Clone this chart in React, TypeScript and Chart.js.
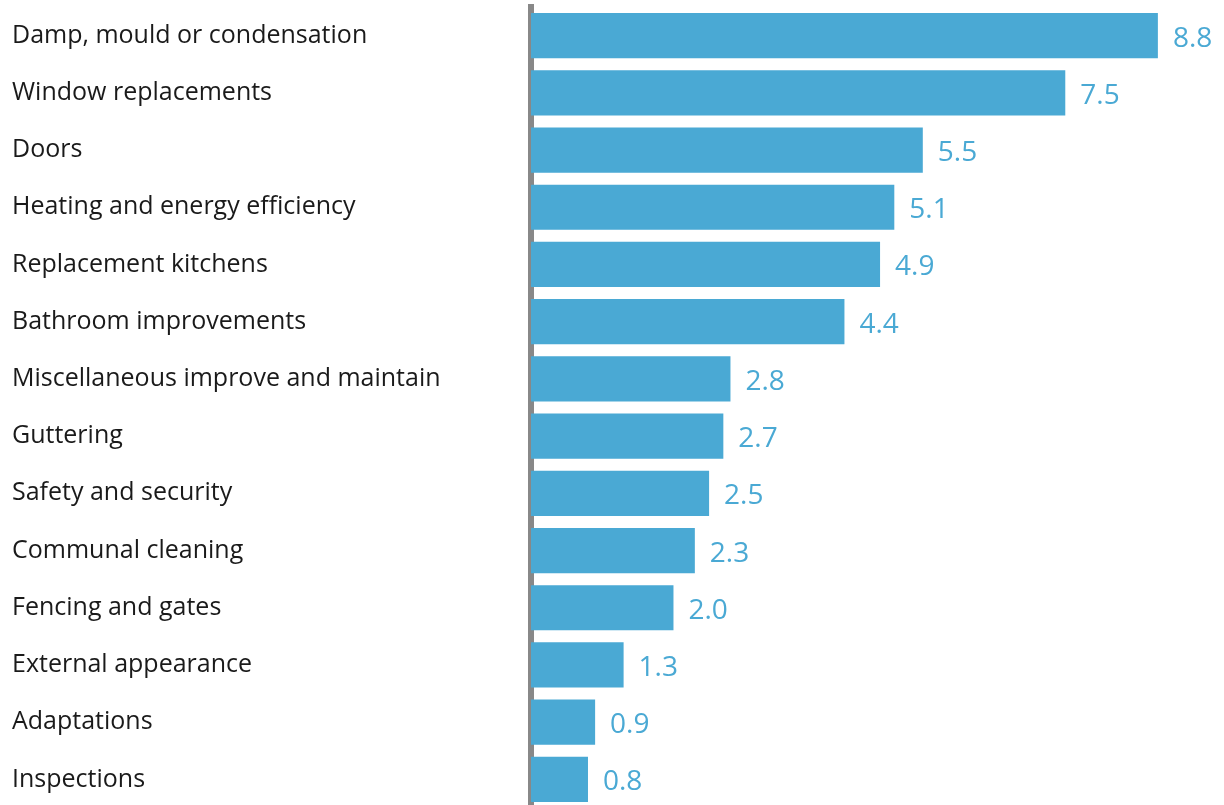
import React, { useEffect, useRef } from "react";
import { Chart, registerables } from "chart.js";

Chart.register(...registerables);

const categories: string[] = [
  "Damp, mould or condensation",
  "Window replacements",
  "Doors",
  "Heating and energy efficiency",
  "Replacement kitchens",
  "Bathroom improvements",
  "Miscellaneous improve and maintain",
  "Guttering",
  "Safety and security",
  "Communal cleaning",
  "Fencing and gates",
  "External appearance",
  "Adaptations",
  "Inspections",
];

const values: number[] = [8.8, 7.5, 5.5, 5.1, 4.9, 4.4, 2.8, 2.7, 2.5, 2.3, 2.0, 1.3, 0.9, 0.8];

const BAR_COLOR = "#4aa9d4";
const FONT = "'Open Sans', 'Noto Sans', sans-serif";

const valueLabels = {
  id: "valueLabels",
  afterDatasetsDraw(chart: any) {
    const ctx = chart.ctx;
    const meta = chart.getDatasetMeta(0);
    ctx.save();
    ctx.fillStyle = BAR_COLOR;
    ctx.font = `28px ${FONT}`;
    ctx.textAlign = "left";
    ctx.textBaseline = "middle";
    meta.data.forEach((el: any, i: number) => {
      const v = chart.data.datasets[0].data[i] as number;
      ctx.fillText(v.toFixed(1), el.x + 15, el.y + 3);
    });
    ctx.restore();
  },
};

export default function App() {
  const ref = useRef<HTMLCanvasElement | null>(null);
  useEffect(() => {
    if (!ref.current) return;
    const chart = new Chart(ref.current, {
      type: "bar",
      data: {
        labels: categories,
        datasets: [
          {
            data: values,
            backgroundColor: BAR_COLOR,
            borderWidth: 0,
            barPercentage: 0.79,
            categoryPercentage: 1,
          },
        ],
      },
      options: {
        indexAxis: "y",
        animation: false,
        responsive: false,
        maintainAspectRatio: false,
        layout: { padding: { left: 12, top: 7, right: 2, bottom: 0 } },
        plugins: {
          legend: { display: false },
          tooltip: { enabled: false },
          title: { display: false },
        },
        scales: {
          x: {
            display: false,
            min: 0,
            max: 9.7,
            grid: { display: false },
          },
          y: {
            position: "left",
            grid: { display: false, drawTicks: false },
            border: { display: true, color: "#888888", width: 6 },
            ticks: {
              crossAlign: "far",
              color: "#1a1a1a",
              padding: 0,
              font: { family: FONT, size: 25 },
            },
            afterFit: (scale: any) => {
              scale.width = 519;
              scale.paddingTop = 0;
              scale.paddingBottom = 0;
            },
          },
        },
      },
      plugins: [
        valueLabels,
        {
          id: "fixArea",
          afterLayout(chart: any) {
            const y = chart.scales.y;
            chart.chartArea.top = 7;
            chart.chartArea.bottom = 808;
            chart.chartArea.height = 801;
            y.top = 7;
            y.bottom = 808;
            y.height = 801;
            y.configure();
          },
        },
      ],
    });
    return () => chart.destroy();
  }, []);
  return (
    <div style={{ position: "fixed", left: 0, top: 0, width: 1224, height: 805, background: "#fff" }}>
      <canvas ref={ref} width={1224} height={805} style={{ display: "block" }} />
    </div>
  );
}
